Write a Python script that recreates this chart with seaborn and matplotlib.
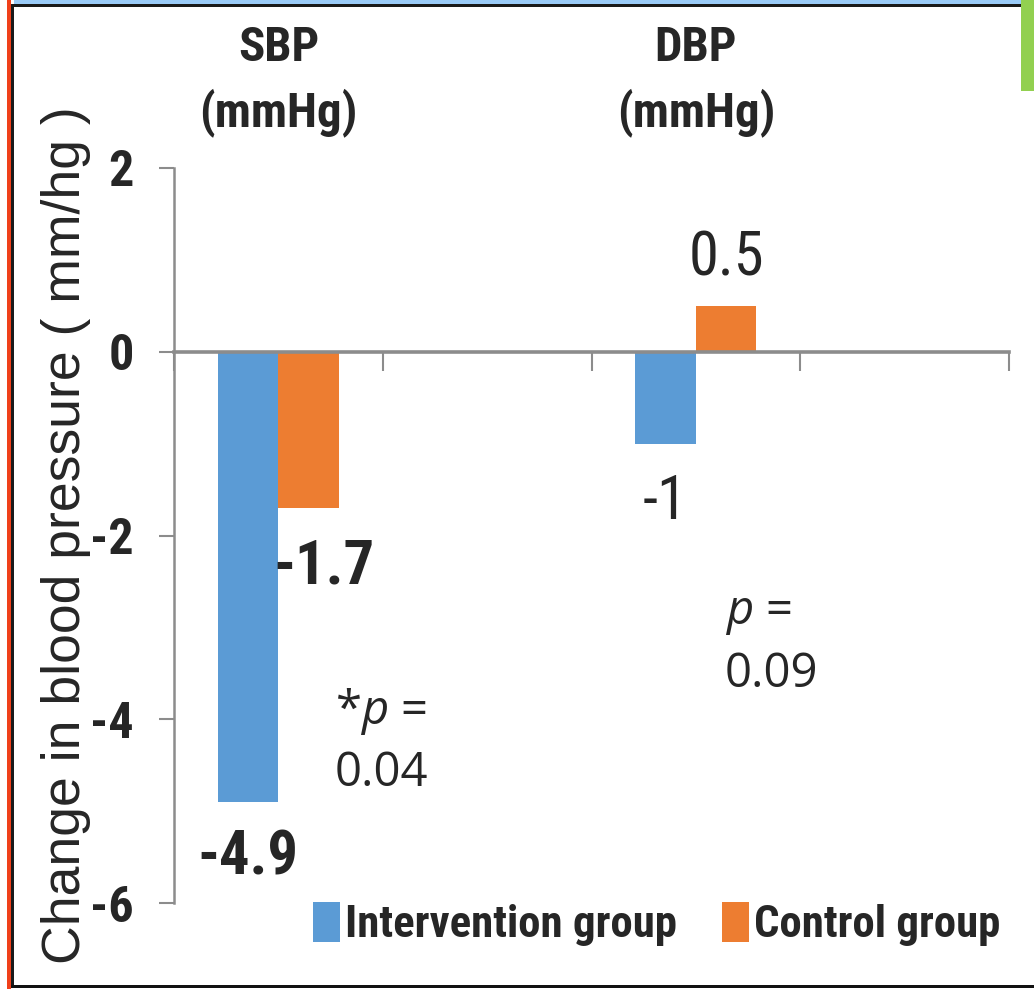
import numpy as np
import pandas as pd
import seaborn as sns
import matplotlib
matplotlib.use("Agg")
import matplotlib.pyplot as plt
from matplotlib import font_manager
from matplotlib.patches import Rectangle
from matplotlib.font_manager import FontProperties

# ---------------- data ----------------
slots = ["SBP\n(mmHg)", "gap1", "DBP\n(mmHg)", "gap2"]
categories = ["SBP\n(mmHg)", "DBP\n(mmHg)"]
groups = ["Intervention group", "Control group"]
intervention = [-4.9, -1.0]
control = [-1.7, 0.5]
intervention_labels = ["-4.9", "-1"]
control_labels = ["-1.7", "0.5"]
p_texts = ["*$p$ =\n0.04", "$p$ =\n0.09"]
y_ticks = [-6, -4, -2, 0, 2]
y_label = "Change in blood pressure ( mm/hg )"
colors = ["#5B9BD5", "#ED7D31"]

df = pd.DataFrame({
    "slot": categories * 2,
    "value": intervention + control,
    "group": [groups[0]] * 2 + [groups[1]] * 2,
})

# ---------------- fonts ----------------
sns.set_style("white")
names = {f.name for f in font_manager.fontManager.ttflist}
NARROW, K = "Liberation Sans", 0.85
for cand, k in [("Liberation Sans Narrow", 1.0), ("Roboto Condensed", 0.95),
                ("Arial Narrow", 1.0)]:
    if cand in names:
        NARROW, K = cand, k
        break
plt.rcParams["font.family"] = ["Liberation Sans", "DejaVu Sans"]
plt.rcParams["mathtext.fontset"] = "custom"
plt.rcParams["mathtext.it"] = "Open Sans:italic"
plt.rcParams["mathtext.rm"] = "Open Sans"

GRAY = "#8C8C8C"

fig = plt.figure(figsize=(10.34, 9.89), dpi=100, facecolor="white")
ax = fig.add_axes([174 / 1034, 1 - 903 / 989, 835 / 1034, 735 / 989])

sns.barplot(data=df, x="slot", y="value", hue="group", order=slots,
            hue_order=groups, palette=colors, width=0.58, saturation=1,
            linewidth=0, legend=False, ax=ax)

ax.set_xlim(-0.5, 3.5)
ax.set_ylim(-6, 2)
ax.set_xlabel("")

# y axis
ax.set_yticks(y_ticks)
ax.set_yticklabels([str(t) for t in y_ticks],
                   fontproperties=FontProperties(family=NARROW, weight="bold", size=38 * K))
ax.tick_params(axis="y", left=True, direction="out", length=11, width=1.5,
               color=GRAY, pad=18)
ax.spines["left"].set_color(GRAY)
ax.spines["left"].set_linewidth(1.8)
ax.set_ylabel(y_label, fontsize=38.5, fontfamily="Liberation Sans")
ax.yaxis.set_label_coords(-0.099, 0.5)

# x axis: line at zero with slot boundary ticks
ax.spines["bottom"].set_position(("data", 0))
ax.spines["bottom"].set_color(GRAY)
ax.spines["bottom"].set_linewidth(2.6)
ax.spines["top"].set_visible(False)
ax.spines["right"].set_visible(False)
ax.set_xticks(np.arange(-0.5, 4.0, 1.0))
ax.set_xticklabels([])
ax.tick_params(axis="x", bottom=True, direction="out", length=14, width=1.5, color=GRAY)

# category labels at top
sec = ax.secondary_xaxis("top")
sec.set_xticks([0, 2], labels=categories)
sec.tick_params(length=0, pad=22)
sec.spines["top"].set_visible(False)
for lbl in sec.get_xticklabels():
    lbl.set_fontproperties(FontProperties(family=NARROW, weight="bold", size=37 * K))
    lbl.set_linespacing(1.45)

# value labels
lab_sets = [intervention_labels, control_labels]
for ci, cont in enumerate(ax.containers):
    anns = ax.bar_label(cont, labels=lab_sets[ci], padding=20,
                        fontproperties=FontProperties(family=NARROW, size=46 * K))
    for ann in anns:
        txt = ann.get_text()
        if txt in ("-4.9", "-1.7"):
            ann.set_fontweight("bold")
        if txt == "-1.7":
            ann.xyann = (11, -21)
        if txt == "0.5":
            ann.xyann = (0, 13)
        if txt == "-1":
            ann.xyann = (0, -21)
        if txt == "-4.9":
            ann.xyann = (0, -19)

# p-value annotations
p_x = [0.27, 2.14]
p_y = [-4.73, -3.645]
for t, x, y in zip(p_texts, p_x, p_y):
    ax.text(x, y, t, ha="left", va="baseline", fontsize=34,
            fontfamily="Open Sans", linespacing=1.35)

# legend
handles = [Rectangle((0, 0), 1, 1, color=c, lw=0) for c in colors]
fig.legend(handles, groups, loc="center", bbox_to_anchor=(0.635, 0.066), ncol=2,
           frameon=False,
           prop=FontProperties(family=NARROW, weight="bold", size=34 * K),
           handlelength=0.6, handleheight=1.0, handletextpad=0.12,
           columnspacing=1.0, borderpad=0, borderaxespad=0)

# slide frame decorations
W, H = 1034, 989
def frect(x0, y0, w, h, c):
    fig.add_artist(Rectangle((x0 / W, 1 - (y0 + h) / H), w / W, h / H,
                             transform=fig.transFigure, color=c, lw=0, zorder=10))
frect(14, 0, 1007, 4.5, "#9ACBF7")
frect(11, 4.5, 1010, 2.5, "#1A1A1A")
frect(7, 0, 3.5, H, "#F0401A")
frect(11, 4.5, 2.5, 983, "#1A1A1A")
frect(11, 984.5, W - 11, 3.5, "#111111")
frect(1021, 0, 13, 91, "#92D050")

fig.savefig("out.png", dpi=100, facecolor="white")
